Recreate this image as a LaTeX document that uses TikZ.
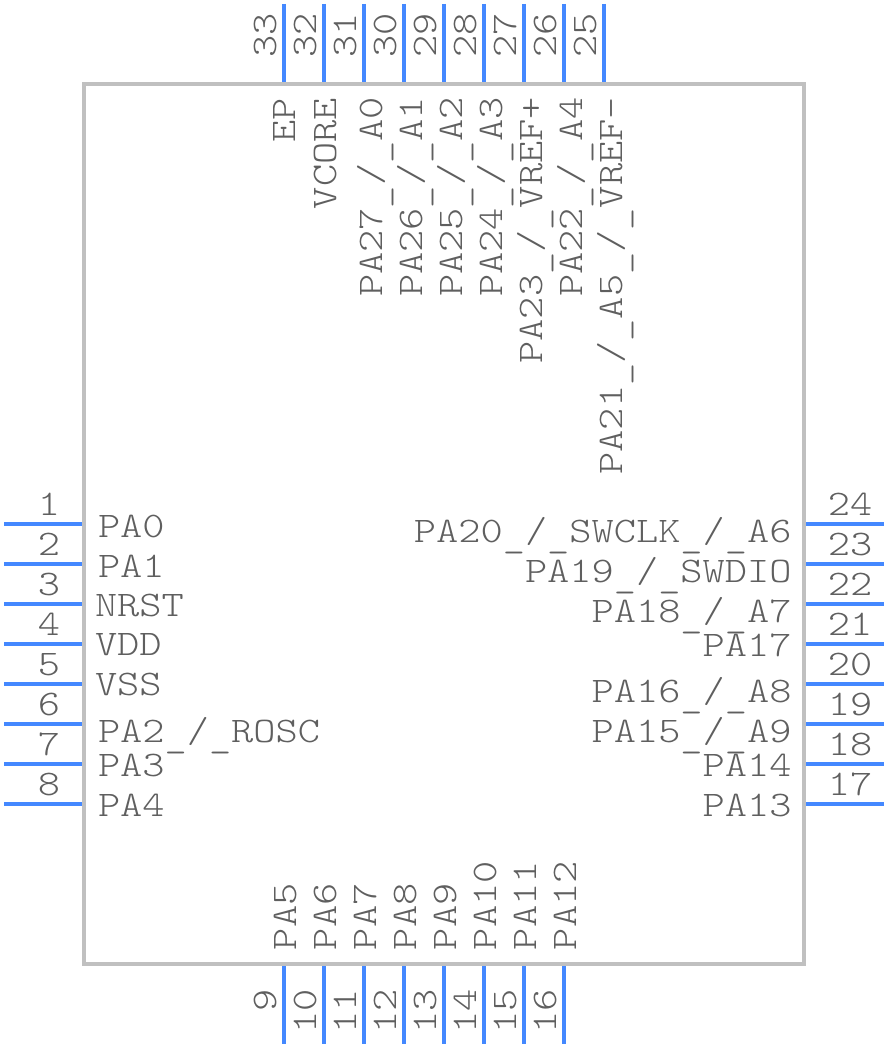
\documentclass[tikz,border=0pt]{standalone}
\usepackage{fontspec}
\newfontfamily\chipfont[FakeStretch=1.175]{Latin Modern Mono Light}
\definecolor{pinblue}{HTML}{4488FF}
\definecolor{bodygrey}{HTML}{C0C0C0}
\definecolor{textgrey}{HTML}{5F5F5F}
\newcommand{\us}{\raisebox{-5.5pt}{\_}}
\tikzset{
  pinline/.style={draw=pinblue,line width=4pt},
  chipbody/.style={draw=bodygrey,line width=4pt},
  txt/.style={inner sep=0pt,outer sep=0pt,text=textgrey,font=\chipfont\fontsize{36}{36}\selectfont},
  lh/.style={txt,anchor=base west},
  rh/.style={txt,anchor=base east},
  nm/.style={txt,anchor=base},
  up/.style={txt,rotate=90,anchor=base east},
  upw/.style={txt,rotate=90,anchor=base west}
}
\begin{document}
\begin{tikzpicture}[x=1pt,y=-1pt]
\useasboundingbox (0,0) rectangle (888,1048);
\draw[chipbody] (84,84) rectangle (804,964);
% left and right pins
\foreach \n/\y in {1/524,2/564,3/604,4/644,5/684,6/724,7/764,8/804}{
  \coordinate (L\n a) at (4,\y); \coordinate (L\n b) at (82,\y);
  \draw[pinline] (L\n a) -- (L\n b);
  \node[nm] (Ln\n) at (49,\y-9) {\n};
}
\foreach \n/\y in {24/524,23/564,22/604,21/644,20/684,19/724,18/764,17/804}{
  \coordinate (R\n a) at (806,\y); \coordinate (R\n b) at (884,\y);
  \draw[pinline] (R\n a) -- (R\n b);
  \node[nm] (Rn\n) at (850,\y-9) {\n};
}
% top pins
\foreach \n/\x in {33/284,32/324,31/364,30/404,29/444,28/484,27/524,26/564,25/604}{
  \coordinate (T\n a) at (\x,4); \coordinate (T\n b) at (\x,82);
  \draw[pinline] (T\n a) -- (T\n b);
  \node[upw] (Tn\n) at (\x-8,58) {\n};
}
% bottom pins
\foreach \n/\x in {9/284,10/324,11/364,12/404,13/444,14/484,15/524,16/564}{
  \coordinate (B\n a) at (\x,966); \coordinate (B\n b) at (\x,1044);
  \draw[pinline] (B\n a) -- (B\n b);
  \node[up] (Bn\n) at (\x-8,989) {\n};
}
% left labels
\node[lh] (pa0) at (98,537) {PA0};
\node[lh] (pa1) at (98,577) {PA1};
\node[lh] (nrst) at (95,616) {NRST};
\node[lh] (vdd) at (95,655) {VDD};
\node[lh] (vss) at (95,695) {VSS};
\node[lh] (pa2) at (98,742) {PA2\us/\us ROSC};
\node[lh] (pa3) at (98,776) {PA3};
\node[lh] (pa4) at (98,816) {PA4};
% right labels
\node[rh] (pa20) at (791.5,542) {PA20\us/\us SWCLK\us/\us A6};
\node[rh] (pa19) at (791.5,582) {PA19\us/\us SWDIO};
\node[rh] (pa18) at (791.5,622) {PA18\us/\us A7};
\node[rh] (pa17) at (791.5,656) {PA17};
\node[rh] (pa16) at (791.5,702) {PA16\us/\us A8};
\node[rh] (pa15) at (791.5,742) {PA15\us/\us A9};
\node[rh] (pa14) at (791.5,776) {PA14};
\node[rh] (pa13) at (791.5,816) {PA13};
% top labels
\node[up] (ep) at (295.5,98) {EP};
\node[up] (vcore) at (336,98) {VCORE};
\node[up] (pa27) at (382,97) {PA27\us/\us A0};
\node[up] (pa26) at (422,97) {PA26\us/\us A1};
\node[up] (pa25) at (462,97) {PA25\us/\us A2};
\node[up] (pa24) at (502,97) {PA24\us/\us A3};
\node[up] (pa23) at (542,97) {PA23\us/\us VREF+};
\node[up] (pa22) at (582,97) {PA22\us/\us A4};
\node[up] (pa21) at (622,97) {PA21\us/\us A5\us/\us VREF-};
% bottom labels
\node[upw] (pa5) at (296,950) {PA5};
\node[upw] (pa6) at (336,950) {PA6};
\node[upw] (pa7) at (376,950) {PA7};
\node[upw] (pa8) at (416,950) {PA8};
\node[upw] (pa9) at (456,950) {PA9};
\node[upw] (pa10) at (496,950) {PA10};
\node[upw] (pa11) at (536,950) {PA11};
\node[upw] (pa12) at (576,950) {PA12};
\end{tikzpicture}
\end{document}
